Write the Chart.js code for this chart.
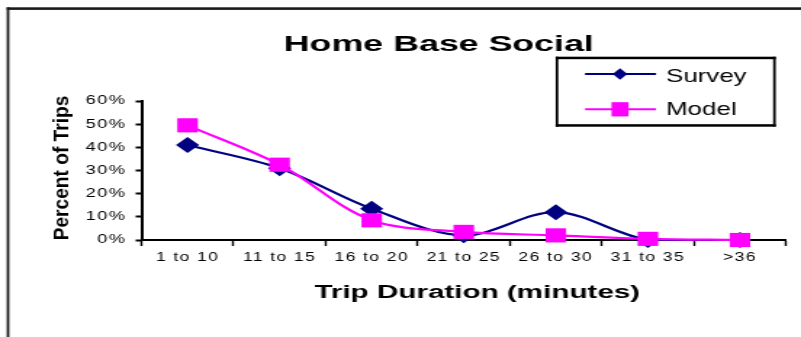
<!DOCTYPE html>
<html>
<head>
<meta charset="utf-8">
<script src="https://cdn.jsdelivr.net/npm/chart.js@4/dist/chart.umd.min.js"></script>
<style>
  html, body { margin: 0; padding: 0; background: #fff; }
  #c { display: block; width: 801px; height: 337px; }
</style>
</head>
<body>
<canvas id="c" width="552" height="337" style="width:801px;height:337px"></canvas>
<script>
// ---- data ----
const categories = ['1 to 10', '11 to 15', '16 to 20', '21 to 25', '26 to 30', '31 to 35', '>36'];
const surveyValues = [41, 31, 13.5, 2, 12, 0, 0];
const modelValues = [49.5, 32.5, 8.5, 3.5, 2, 0.5, 0];
const yTickMin = 0;
const yTickMax = 60;
const yTickStep = 10;
const chartTitle = 'Home Base Social';
const xAxisTitle = 'Trip Duration (minutes)';
const yAxisTitle = 'Percent of Trips';
const seriesNames = ['Survey', 'Model'];

// ---- drawing setup ----
// The chart is laid out on a narrower canvas and stretched horizontally, like the reference.
const S = 801 / 552;
const FONT = "'Liberation Sans', Arial, Helvetica, sans-serif";
const NAVY = '#000080';
const MAGENTA = '#FF00FF';

function drawText(ctx, txt, x, y, font, sx, align) {
  ctx.save();
  ctx.translate(x, y);
  ctx.scale(sx, 1);
  ctx.font = font;
  ctx.textAlign = align;
  ctx.textBaseline = 'alphabetic';
  ctx.fillStyle = '#000';
  ctx.fillText(txt, 0, 0);
  ctx.restore();
}

const decor = {
  id: 'decor',
  beforeDraw(chart) {
    chart.ctx.letterSpacing = '1px';
  },
  afterDraw(chart) {
    const ctx = chart.ctx;
    ctx.save();
    ctx.letterSpacing = '0px';
    // outer frame (top and left edges)
    ctx.fillStyle = '#1a1a1a';
    ctx.fillRect(4.6, 7.3, 560, 2.6);
    ctx.fillRect(4.6, 7.3, 1.8, 340);

    // title
    drawText(ctx, chartTitle, 302.4, 51, 'bold 22px ' + FONT, 1.12, 'center');
    // x axis title
    drawText(ctx, xAxisTitle, 328.9, 297.7, 'bold 18px ' + FONT, 1.134, 'center');
    // y axis title (rotated, condensed along its reading direction)
    ctx.save();
    ctx.translate(47.1, 168);
    ctx.rotate(-Math.PI / 2);
    ctx.scale(0.85, 1 / S);
    ctx.font = 'bold 22.5px ' + FONT;
    ctx.textAlign = 'center';
    ctx.textBaseline = 'alphabetic';
    ctx.fillStyle = '#000';
    ctx.fillText(yAxisTitle, 0, 0);
    ctx.restore();

    // legend box
    const bl = 555.7 / S, br = 775.7 / S, bt = 56.7, bb = 126.7;
    ctx.fillStyle = '#000';
    ctx.fillRect(bl, bt, br - bl, 2.5);
    ctx.fillRect(bl, bb - 2.5, br - bl, 2.5);
    ctx.fillRect(bl, bt, 1.8, bb - bt);
    ctx.fillRect(br - 1.8, bt, 1.8, bb - bt);

    const lx1 = 585 / S, lx2 = 656 / S, mx = 620 / S;
    // Survey entry
    ctx.strokeStyle = NAVY;
    ctx.lineWidth = 2;
    ctx.beginPath(); ctx.moveTo(lx1, 74); ctx.lineTo(lx2, 74); ctx.stroke();
    ctx.fillStyle = NAVY;
    ctx.beginPath();
    ctx.moveTo(mx - 5.1, 74); ctx.lineTo(mx, 68.2); ctx.lineTo(mx + 5.1, 74); ctx.lineTo(mx, 79.8);
    ctx.closePath(); ctx.fill();
    // Model entry
    ctx.strokeStyle = MAGENTA;
    ctx.beginPath(); ctx.moveTo(lx1, 109.3); ctx.lineTo(lx2, 109.3); ctx.stroke();
    ctx.fillStyle = MAGENTA;
    ctx.fillRect(mx - 5.85, 109.3 - 7.1, 11.7, 14.2);

    drawText(ctx, seriesNames[0], 666 / S, 81.5, '19px ' + FONT, 0.94, 'left');
    drawText(ctx, seriesNames[1], 666 / S, 115, '19px ' + FONT, 0.94, 'left');
    ctx.restore();
  }
};

const chart = new Chart(document.getElementById('c'), {
  type: 'line',
  data: {
    labels: categories,
    datasets: [
      {
        label: seriesNames[0],
        data: surveyValues,
        borderColor: NAVY,
        backgroundColor: NAVY,
        borderWidth: 2.2,
        pointStyle: 'rectRot',
        pointRadius: 8,
        pointBorderWidth: 0,
        pointBackgroundColor: NAVY,
        pointBorderColor: NAVY,
        tension: 0.33,
        clip: false,
        order: 2
      },
      {
        label: seriesNames[1],
        data: modelValues,
        borderColor: MAGENTA,
        backgroundColor: MAGENTA,
        borderWidth: 2.2,
        pointStyle: 'rect',
        pointRadius: 10,
        pointBorderWidth: 0,
        pointBackgroundColor: MAGENTA,
        pointBorderColor: MAGENTA,
        tension: 0.33,
        clip: false,
        order: 1
      }
    ]
  },
  options: {
    responsive: false,
    animation: false,
    events: [],
    layout: { padding: { left: 0, right: 552 - 786 / S, top: 101, bottom: 0 } },
    plugins: {
      legend: { display: false },
      title: { display: false },
      tooltip: { enabled: false }
    },
    scales: {
      x: {
        offset: true,
        grid: {
          offset: true,
          display: true,
          drawOnChartArea: false,
          drawTicks: true,
          tickLength: 6,
          tickWidth: 1.4,
          tickColor: '#000'
        },
        border: { display: true, color: '#000', width: 2 },
        ticks: {
          color: '#000',
          font: { family: FONT, size: 12 },
          padding: 4.8,
          maxRotation: 0,
          autoSkip: false
        },
        afterFit(scale) { scale.height = 97; }
      },
      y: {
        min: yTickMin,
        max: yTickMax,
        ticks: {
          stepSize: yTickStep,
          callback: (v) => v + '%',
          color: '#000',
          font: { family: FONT, size: 12.5 },
          padding: 6.4
        },
        grid: {
          display: true,
          drawOnChartArea: false,
          drawTicks: true,
          tickLength: 4,
          tickWidth: 2,
          tickColor: '#000'
        },
        border: { display: true, color: '#000', width: 2 },
        afterFit(scale) { scale.width = 141.5 / S; }
      }
    }
  },
  plugins: [decor]
});
const cv = document.getElementById('c');
cv.style.width = '801px';
cv.style.height = '337px';
</script>
</body>
</html>
